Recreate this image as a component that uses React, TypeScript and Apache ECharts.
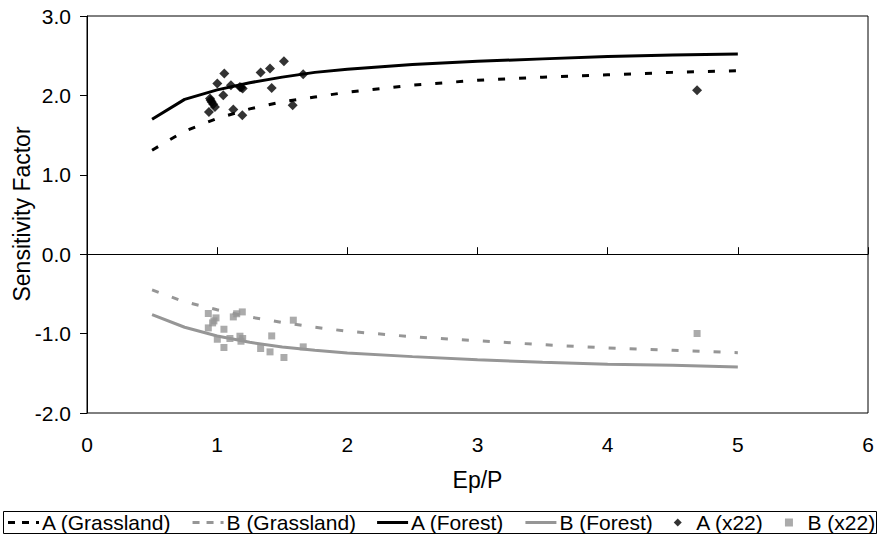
import React, { useEffect, useRef } from "react";
import * as echarts from "echarts";

const curveX = [0.5, 0.75, 1, 1.25, 1.5, 1.75, 2, 2.5, 3, 3.5, 4, 4.5, 5];
const aGrassland = [1.31, 1.55, 1.71, 1.83, 1.92, 1.98, 2.04, 2.13, 2.19, 2.23, 2.26, 2.29, 2.31];
const bGrassland = [-0.45, -0.6, -0.7, -0.79, -0.86, -0.92, -0.97, -1.04, -1.09, -1.14, -1.18, -1.21, -1.24];
const aForest = [1.7, 1.95, 2.07, 2.16, 2.23, 2.29, 2.33, 2.39, 2.43, 2.46, 2.49, 2.51, 2.52];
const bForest = [-0.76, -0.92, -1.03, -1.11, -1.17, -1.21, -1.245, -1.29, -1.33, -1.36, -1.385, -1.4, -1.42];

const aObsX = [1.055, 1.001, 0.945, 0.958, 0.983, 0.937, 1.047, 1.106, 1.175, 1.196, 1.124, 1.193, 1.334, 1.406, 1.513, 1.419, 1.58, 1.661, 4.687, 0.97, 1.185, 0.95];
const aObsY = [2.276, 2.15, 1.961, 1.918, 1.855, 1.792, 2.003, 2.128, 2.107, 2.087, 1.822, 1.751, 2.288, 2.339, 2.431, 2.094, 1.877, 2.267, 2.065, 1.89, 2.1, 1.94];
const bObsX = [0.932, 0.991, 0.965, 0.932, 1.052, 1.001, 1.052, 1.098, 1.124, 1.193, 1.175, 1.196, 1.183, 1.334, 1.406, 1.513, 1.419, 1.585, 1.661, 4.687, 0.975, 1.15];
const bObsY = [-0.747, -0.802, -0.865, -0.928, -0.945, -1.071, -1.175, -1.062, -0.79, -0.727, -1.033, -1.062, -1.096, -1.188, -1.23, -1.301, -1.029, -0.831, -1.167, -0.999, -0.84, -0.75];

const xTicks = [0, 1, 2, 3, 4, 5, 6];
const yTicks = [-2, -1, 0, 1, 2, 3];

const GRAY = "#969696";
const FONT = "Liberation Sans, Arial, sans-serif";

const DASH_ICON = "path://M0,0h7v3h-7z M14,0h7v3h-7z M28,0h3v3h-3z";
const LINE_ICON = "path://M0,0h31v3h-31z";
const DIAMOND_ICON = "path://M4,0L8,4L4,8L0,4Z";
const SQUARE_ICON = "path://M0,0h7v7h-7z";

const pairs = (xs: number[], ys: number[]) => xs.map((x, i) => [x, ys[i]]);

export default function App() {
  const ref = useRef<HTMLDivElement>(null);
  useEffect(() => {
    if (!ref.current) return;
    const chart = echarts.init(ref.current, undefined, { renderer: "svg" });
    const lineSeries = (name: string, ys: number[], color: string, dashed: boolean) => ({
      name,
      type: "line",
      data: pairs(curveX, ys),
      symbol: "none",
      smooth: false,
      lineStyle: { color, width: 3, type: dashed ? [7, 14] : "solid", cap: "butt" },
      itemStyle: { color },
      z: 2,
    });
    const xMin = xTicks[0];
    const xMax = xTicks[xTicks.length - 1];
    chart.setOption({
      animation: false,
      backgroundColor: "#fff",
      textStyle: { fontFamily: FONT },
      grid: {
        left: 87,
        right: 11,
        top: 16,
        bottom: 123,
        show: true,
        borderColor: "#000",
        borderWidth: 1,
        backgroundColor: "transparent",
      },
      xAxis: [
        {
          type: "value",
          min: xMin,
          max: xMax,
          interval: 1,
          position: "bottom",
          axisLine: { show: false, onZero: false },
          axisTick: { show: false },
          splitLine: { show: false },
          axisLabel: { color: "#000", fontSize: 21, fontFamily: FONT, margin: 21 },
          name: "Ep/P",
          nameLocation: "middle",
          nameGap: 55,
          nameTextStyle: { color: "#000", fontSize: 23, fontFamily: FONT },
        },
        {
          type: "value",
          min: xMin,
          max: xMax,
          interval: 1,
          position: "bottom",
          axisLine: { show: true, onZero: true, lineStyle: { color: "#000", width: 1 } },
          axisTick: { show: true, inside: true, length: 7, lineStyle: { color: "#000" } },
          axisLabel: { show: false },
          splitLine: { show: false },
        },
      ],
      yAxis: {
        type: "value",
        min: yTicks[0],
        max: yTicks[yTicks.length - 1],
        interval: 1,
        axisLine: { show: true, onZero: false, lineStyle: { color: "#000", width: 1 } },
        axisTick: { show: true, inside: false, length: 7, lineStyle: { color: "#000" } },
        splitLine: { show: false },
        axisLabel: {
          color: "#000",
          fontSize: 21,
          fontFamily: FONT,
          margin: 16,
          formatter: (v: number) => v.toFixed(1),
        },
      },
      graphic: [
        {
          type: "text",
          x: 22,
          y: 214,
          rotation: Math.PI / 2,
          style: {
            text: "Sensitivity Factor",
            fill: "#000",
            font: `23px ${FONT}`,
            align: "center",
            verticalAlign: "middle",
          },
        },
        {
          type: "rect",
          shape: { x: 3.5, y: 511.5, width: 873, height: 22 },
          style: { fill: "none", stroke: "#000", lineWidth: 1 },
          z: 0,
        },
      ],
      legend: {
        left: 8,
        top: 512,
        itemWidth: 31,
        itemHeight: 8,
        itemGap: 21,
        padding: 0,
        symbolKeepAspect: true,
        textStyle: { color: "#000", fontSize: 21, fontFamily: FONT, padding: [0, 0, 0, -2] },
        data: [
          { name: "A (Grassland)", icon: DASH_ICON },
          { name: "B (Grassland)", icon: DASH_ICON },
          { name: "A (Forest)", icon: LINE_ICON },
          { name: "B (Forest)", icon: LINE_ICON },
          { name: "A (x22)", icon: DIAMOND_ICON },
          { name: "B (x22)", icon: SQUARE_ICON },
        ],
      },
      series: [
        lineSeries("A (Grassland)", aGrassland, "#000", true),
        lineSeries("B (Grassland)", bGrassland, GRAY, true),
        lineSeries("A (Forest)", aForest, "#000", false),
        lineSeries("B (Forest)", bForest, GRAY, false),
        {
          name: "A (x22)",
          type: "scatter",
          data: pairs(aObsX, aObsY),
          symbol: "diamond",
          symbolSize: 10,
          itemStyle: { color: "#000" },
          z: 3,
        },
        {
          name: "B (x22)",
          type: "scatter",
          data: pairs(bObsX, bObsY),
          symbol: "rect",
          symbolSize: 7,
          itemStyle: { color: GRAY },
          z: 3,
        },
      ],
    });
    return () => chart.dispose();
  }, []);
  return <div ref={ref} style={{ width: 879, height: 536, position: "absolute", left: 0, top: 0 }} />;
}
